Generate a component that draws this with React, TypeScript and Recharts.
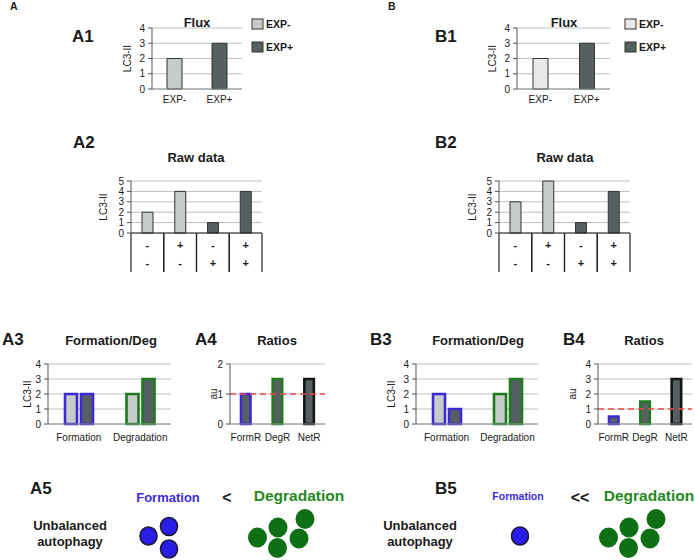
import React from 'react';
import { BarChart, Bar, Cell, XAxis, YAxis, CartesianGrid, ReferenceLine } from 'recharts';

// ---- values ----
const fluxCats = ['EXP-', 'EXP+'];
const fluxA = [2, 3];
const fluxB = [2, 3];

const rawTopRow = ['-', '+', '-', '+'];
const rawBottomRow = ['-', '-', '+', '+'];
const rawA = [2, 4, 1, 4];
const rawB = [3, 5, 1, 4];

const fdCats = ['Formation', 'Degradation'];
const fdMinusA = [2, 2];
const fdPlusA = [2, 3];
const fdMinusB = [2, 2];
const fdPlusB = [1, 3];

const ratioCats = ['FormR', 'DegR', 'NetR'];
const ratiosA = [1, 1.5, 1.5];
const ratiosB = [0.5, 1.5, 3];

const ticks2 = [0, 1, 2];
const ticks4 = [0, 1, 2, 3, 4];
const ticks5 = [0, 1, 2, 3, 4, 5];

// ---- styles ----
const FONT = '"Liberation Sans", Arial, Helvetica, sans-serif';
const LIGHT = '#c6ccc8';
const LIGHTER = '#e7e9e7';
const DARK = '#566060';
const GRID = '#b8c3c3';
const AXIS = '#555';
const BLUE = '#3c2ad6';
const GREEN = '#1e7a1e';
const BLACK = '#151515';
const RED = '#ef4a4a';
const TEXT = '#1a1a1a';

interface SeriesDef {
  values: number[];
  fills: string[];
  strokes: string[];
  strokeWidth: number;
}

interface PanelProps {
  box: [number, number, number, number];
  cats: string[];
  series: SeriesDef[];
  yMax: number;
  yTicks: number[];
  yLabel: string;
  labelX: number;
  barSize: number;
  barGap?: number;
  table?: string[][];
  refY?: number;
  tickGap?: number;
}

const TableTick = (props: any) => {
  const { x, y, payload, index, bw, table } = props;
  const i = index ?? payload.index;
  return (
    <g>
      <line x1={x - bw / 2} x2={x - bw / 2} y1={y} y2={y + 39} stroke="#222" strokeWidth={1.2} />
      <line x1={x + bw / 2} x2={x + bw / 2} y1={y} y2={y + 39} stroke="#222" strokeWidth={1.2} />
      <text x={x} y={y + 16} textAnchor="middle" fontSize={11} fontWeight="bold" fill={TEXT}>{table[0][i]}</text>
      <text x={x} y={y + 34} textAnchor="middle" fontSize={11} fontWeight="bold" fill={TEXT}>{table[1][i]}</text>
    </g>
  );
};

const Panel: React.FC<PanelProps> = ({ box, cats, series, yMax, yTicks, yLabel, labelX, barSize, barGap = 4, table, refY, tickGap = 7 }) => {
  const [x0, y0, x1, y1] = box;
  const W = 44;
  const mt = 8;
  const mr = 3;
  const H = table ? 42 : 26;
  const plotW = x1 - x0;
  const plotH = y1 - y0;
  const left = x0 - W;
  const data = cats.map((c, i) => {
    const row: any = { name: c };
    series.forEach((s, k) => { row['s' + k] = s.values[i]; });
    return row;
  });
  const lx = labelX - left;
  const ly = mt + plotH / 2;
  return (
    <div style={{ position: 'absolute', left, top: y0 - mt }}>
      <BarChart
        width={plotW + W + mr}
        height={plotH + mt + H}
        data={data}
        margin={{ top: mt, right: mr, bottom: 0, left: 0 }}
        barSize={barSize}
        barGap={barGap}
      >
        <CartesianGrid vertical={false} stroke={GRID} />
        <XAxis
          dataKey="name"
          height={H}
          interval={0}
          tickSize={0}
          tickMargin={table ? 0 : tickGap}
          axisLine={{ stroke: table ? '#222' : '#8a9292', strokeWidth: table ? 1.2 : 1 }}
          tick={table ? (p: any) => <TableTick {...p} bw={plotW / cats.length} table={table} /> : { fontSize: 10, fill: TEXT }}
        />
        <YAxis
          width={W}
          domain={[0, yMax]}
          ticks={yTicks}
          interval={0}
          tickSize={4}
          tickMargin={3}
          axisLine={{ stroke: AXIS }}
          tickLine={{ stroke: AXIS }}
          tick={{ fontSize: 10, fill: TEXT }}
          label={{
            value: yLabel,
            content: () => (
              <text x={lx} y={ly} transform={`rotate(-90 ${lx} ${ly})`} textAnchor="middle" dominantBaseline="central" fontSize={10} fill={TEXT}>
                {yLabel}
              </text>
            ),
          }}
        />
        {series.map((s, k) => (
          <Bar key={k} dataKey={'s' + k} isAnimationActive={false}>
            {cats.map((c, i) => (
              <Cell key={c} fill={s.fills[i]} stroke={s.strokes[i]} strokeWidth={s.strokeWidth} />
            ))}
          </Bar>
        ))}
        {refY !== undefined && <ReferenceLine y={refY} stroke={RED} strokeDasharray="6 4" strokeWidth={1.5} />}
      </BarChart>
    </div>
  );
};

const outline = (n: number) => Array(n).fill('#333');

// schematic clusters for the bottom row (offsets from a cluster origin)
const blueCluster = [[0, 0], [20.5, -9.5], [20.5, 13]];
const greenCluster = [[0, 0], [20.5, -10], [47.5, -18.5], [41.5, 1], [20, 10.5]];

const Dots = ({ ox, oy, offsets, n, fill, stroke, rx, ry }: any) => (
  <g>
    {offsets.slice(0, n).map((o: number[], i: number) => (
      <ellipse key={i} cx={ox + o[0]} cy={oy + o[1]} rx={rx} ry={ry} fill={fill} stroke={stroke} strokeWidth={stroke ? 1.6 : 0} />
    ))}
  </g>
);

const Bold = ({ x, y, size, children, anchor = 'start', color = TEXT }: any) => (
  <text x={x} y={y} fontSize={size} fontWeight="bold" textAnchor={anchor} fill={color}>{children}</text>
);

export default function App() {
  return (
    <div style={{ position: 'absolute', left: 0, top: 0, width: 695, height: 560, fontFamily: FONT, background: '#fff' }}>
      <svg width={695} height={560} style={{ position: 'absolute', left: 0, top: 0 }}>
        <Bold x={10} y={10} size={10.5}>A</Bold>
        <Bold x={388} y={10} size={10.5}>B</Bold>

        <Bold x={72} y={42} size={17}>A1</Bold>
        <Bold x={435} y={42} size={17}>B1</Bold>
        <Bold x={197} y={27} size={13} anchor="middle">Flux</Bold>
        <Bold x={564} y={27} size={13} anchor="middle">Flux</Bold>

        <rect x={252} y={19} width={11} height={10} fill={LIGHT} stroke="#333" />
        <Bold x={266} y={28} size={10.5}>EXP-</Bold>
        <rect x={252} y={42} width={11} height={10} fill={DARK} stroke="#333" />
        <Bold x={266} y={51} size={10.5}>EXP+</Bold>
        <rect x={625} y={19} width={11} height={10} fill={LIGHTER} stroke="#333" />
        <Bold x={639} y={28} size={10.5}>EXP-</Bold>
        <rect x={625} y={42} width={11} height={10} fill={DARK} stroke="#333" />
        <Bold x={639} y={51} size={10.5}>EXP+</Bold>

        <Bold x={73} y={148} size={17}>A2</Bold>
        <Bold x={435} y={148} size={17}>B2</Bold>
        <Bold x={196} y={162} size={13} anchor="middle">Raw data</Bold>
        <Bold x={565} y={162} size={13} anchor="middle">Raw data</Bold>

        <Bold x={2} y={345} size={17}>A3</Bold>
        <Bold x={195} y={345} size={17}>A4</Bold>
        <Bold x={370} y={345} size={17}>B3</Bold>
        <Bold x={563} y={345} size={17}>B4</Bold>
        <Bold x={111} y={345} size={13} anchor="middle">Formation/Deg</Bold>
        <Bold x={277} y={345} size={13} anchor="middle">Ratios</Bold>
        <Bold x={478} y={345} size={13} anchor="middle">Formation/Deg</Bold>
        <Bold x={644} y={345} size={13} anchor="middle">Ratios</Bold>

        <Bold x={30} y={494} size={17}>A5</Bold>
        <Bold x={168} y={502} size={13} anchor="middle" color={BLUE}>Formation</Bold>
        <Bold x={227} y={503} size={16} anchor="middle">&lt;</Bold>
        <Bold x={299} y={501} size={15.5} anchor="middle" color="#1f8a22">Degradation</Bold>
        <Bold x={70} y={530} size={13} anchor="middle">Unbalanced</Bold>
        <Bold x={70} y={546} size={13} anchor="middle">autophagy</Bold>
        <Dots ox={148.5} oy={536} offsets={blueCluster} n={3} fill="#2a1de6" stroke="#1a1a3a" rx={8.5} ry={9} />
        <Dots ox={257.5} oy={537.5} offsets={greenCluster} n={5} fill="#0f6f14" rx={9.5} ry={10} />

        <Bold x={435} y={494} size={17}>B5</Bold>
        <Bold x={518} y={500} size={10.5} anchor="middle" color={BLUE}>Formation</Bold>
        <Bold x={580} y={503} size={16} anchor="middle">&lt;&lt;</Bold>
        <Bold x={649} y={501} size={15.5} anchor="middle" color="#1f8a22">Degradation</Bold>
        <Bold x={420} y={530} size={13} anchor="middle">Unbalanced</Bold>
        <Bold x={420} y={546} size={13} anchor="middle">autophagy</Bold>
        <Dots ox={520} oy={536} offsets={blueCluster} n={1} fill="#2a1de6" stroke="#1a1a3a" rx={8.5} ry={9} />
        <Dots ox={608.5} oy={537.5} offsets={greenCluster} n={5} fill="#0f6f14" rx={9.5} ry={10} />
      </svg>

      <Panel box={[152, 28, 242, 89]} cats={fluxCats} yMax={4} yTicks={ticks4} yLabel="LC3-II" labelX={127} barSize={15}
        series={[{ values: fluxA, fills: [LIGHT, DARK], strokes: outline(2), strokeWidth: 1 }]} />
      <Panel box={[517, 28, 610, 89]} cats={fluxCats} yMax={4} yTicks={ticks4} yLabel="LC3-II" labelX={492} barSize={15}
        series={[{ values: fluxB, fills: [LIGHTER, DARK], strokes: outline(2), strokeWidth: 1 }]} />

      <Panel box={[131, 181, 262, 233]} cats={rawTopRow.map((r, i) => r + rawBottomRow[i])} table={[rawTopRow, rawBottomRow]}
        yMax={5} yTicks={ticks5} yLabel="LC3-II" labelX={103} barSize={11}
        series={[{ values: rawA, fills: [LIGHT, LIGHT, DARK, DARK], strokes: outline(4), strokeWidth: 1 }]} />
      <Panel box={[499, 181, 630, 233]} cats={rawTopRow.map((r, i) => r + rawBottomRow[i])} table={[rawTopRow, rawBottomRow]}
        yMax={5} yTicks={ticks5} yLabel="LC3-II" labelX={472} barSize={11}
        series={[{ values: rawB, fills: [LIGHT, LIGHT, DARK, DARK], strokes: outline(4), strokeWidth: 1 }]} />

      <Panel box={[48, 364, 171, 424]} cats={fdCats} yMax={4} yTicks={ticks4} yLabel="LC3-II" labelX={27} barSize={12} barGap={4} tickGap={10}
        series={[
          { values: fdMinusA, fills: [LIGHT, LIGHT], strokes: [BLUE, GREEN], strokeWidth: 2.6 },
          { values: fdPlusA, fills: [DARK, DARK], strokes: [BLUE, GREEN], strokeWidth: 2.6 },
        ]} />
      <Panel box={[230, 364, 325, 424]} cats={ratioCats} yMax={2} yTicks={ticks2} yLabel="au" labelX={213} barSize={9.5} tickGap={10} refY={1}
        series={[{ values: ratiosA, fills: [DARK, DARK, DARK], strokes: [BLUE, GREEN, BLACK], strokeWidth: 2.6 }]} />
      <Panel box={[416, 364, 538, 424]} cats={fdCats} yMax={4} yTicks={ticks4} yLabel="LC3-II" labelX={391} barSize={12} barGap={4} tickGap={10}
        series={[
          { values: fdMinusB, fills: [LIGHT, LIGHT], strokes: [BLUE, GREEN], strokeWidth: 2.6 },
          { values: fdPlusB, fills: [DARK, DARK], strokes: [BLUE, GREEN], strokeWidth: 2.6 },
        ]} />
      <Panel box={[598, 364, 692, 424]} cats={ratioCats} yMax={4} yTicks={ticks4} yLabel="au" labelX={572} barSize={9.5} tickGap={10} refY={1}
        series={[{ values: ratiosB, fills: [DARK, DARK, DARK], strokes: [BLUE, GREEN, BLACK], strokeWidth: 2.6 }]} />
    </div>
  );
}
